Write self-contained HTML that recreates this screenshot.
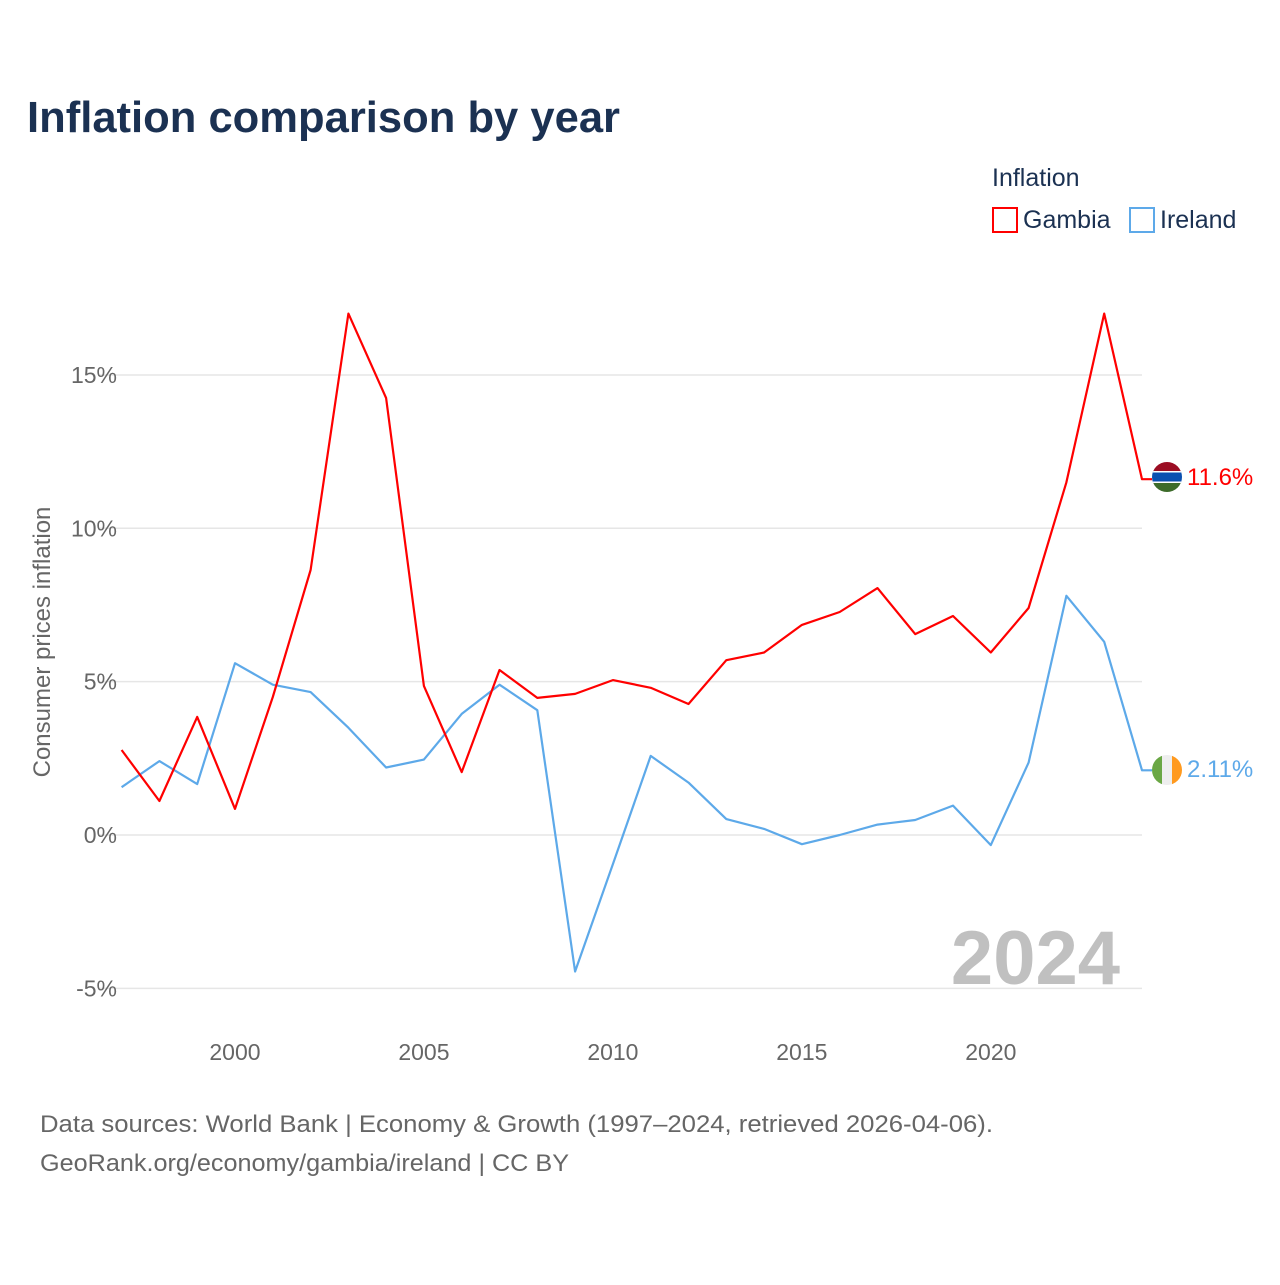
<!DOCTYPE html>
<html><head><meta charset="utf-8"><style>
body{margin:0;background:#fff;font-family:"Liberation Sans",sans-serif;}
svg text{font-family:"Liberation Sans",sans-serif;}
</style></head><body>
<svg id="chart" width="1280" height="1280" viewBox="0 0 1280 1280" xmlns="http://www.w3.org/2000/svg">
<rect width="1280" height="1280" fill="#fff"/>
<text x="27" y="132" font-size="44" font-weight="bold" fill="#1b3152" textLength="593" lengthAdjust="spacingAndGlyphs">Inflation comparison by year</text>
<g>
<text x="992" y="186" font-size="25" fill="#1b3152">Inflation</text>
<g><rect x="993" y="208" width="24" height="24" fill="none" stroke="#f00" stroke-width="2"/><text x="1023" y="228" font-size="25" fill="#1b3152">Gambia</text></g>
<g><rect x="1130" y="208" width="24" height="24" fill="none" stroke="#5da9e9" stroke-width="2"/><text x="1160" y="228" font-size="25" fill="#1b3152">Ireland</text></g>
</g>
<g id="grid"></g>
<g id="yticks"></g>
<g id="xticks"></g>
<text x="50" y="642" font-size="24" fill="#666" transform="rotate(-90 50 642)" text-anchor="middle">Consumer prices inflation</text>
<text x="1120" y="984" font-size="76" font-weight="bold" fill="#c0c0c0" text-anchor="end">2024</text>
<g id="series"></g>
<g>
<clipPath id="c1"><circle cx="1167" cy="477" r="15"/></clipPath>
<g clip-path="url(#c1)"><rect x="1150" y="460" width="34" height="12" fill="#9b0d23"/><rect x="1150" y="471" width="34" height="12" fill="#0b4fb0"/><rect x="1150" y="471" width="34" height="1.5" fill="#fff"/><rect x="1150" y="481.5" width="34" height="1.5" fill="#fff"/><rect x="1150" y="483" width="34" height="12" fill="#3d6b2a"/></g></g>
<g>
<clipPath id="c2"><circle cx="1167" cy="770" r="15"/></clipPath>
<g clip-path="url(#c2)"><rect x="1152" y="755" width="10" height="30" fill="#6aa745"/><rect x="1162" y="755" width="10" height="30" fill="#eee"/><rect x="1172" y="755" width="12" height="30" fill="#ff9a1f"/></g></g>
<text x="1187" y="485" font-size="24" fill="#f00">11.6%</text>
<text x="1187" y="777" font-size="24" fill="#5da9e9">2.11%</text>
<text x="40" y="1132" font-size="24" fill="#666" textLength="953" lengthAdjust="spacingAndGlyphs">Data sources: World Bank | Economy &amp; Growth (1997–2024, retrieved 2026-04-06).</text>
<text x="40" y="1171" font-size="24" fill="#666" textLength="529" lengthAdjust="spacingAndGlyphs">GeoRank.org/economy/gambia/ireland | CC BY</text>
</svg>
<script>
const years=[1997,1998,1999,2000,2001,2002,2003,2004,2005,2006,2007,2008,2009,2010,2011,2012,2013,2014,2015,2016,2017,2018,2019,2020,2021,2022,2023,2024];
const gambia=[2.77,1.11,3.85,0.85,4.5,8.64,17.0,14.25,4.86,2.05,5.38,4.47,4.6,5.05,4.8,4.27,5.7,5.95,6.85,7.27,8.05,6.55,7.14,5.95,7.4,11.5,17.0,11.6];
const ireland=[1.56,2.41,1.66,5.6,4.9,4.66,3.5,2.2,2.46,3.95,4.9,4.07,-4.45,-0.95,2.58,1.71,0.52,0.2,-0.3,0.0,0.34,0.49,0.96,-0.33,2.36,7.8,6.3,2.11];
const yTicks=[-5,0,5,10,15];
const yTickLabels=["-5%","0%","5%","10%","15%"];
const xTicks=[2000,2005,2010,2015,2020];
const NS="http://www.w3.org/2000/svg";
const x=v=>121.6+(v-1997)*(1142-121.6)/27;
const y=v=>835-v*30.67;
function mk(t,a,p){const e=document.createElementNS(NS,t);for(const k in a)e.setAttribute(k,a[k]);p.appendChild(e);return e;}
const grid=document.getElementById('grid'),yt=document.getElementById('yticks'),xt=document.getElementById('xticks'),ser=document.getElementById('series');
yTicks.forEach((v,i)=>{
 const l=mk('line',{x1:100,x2:1142,y1:y(v),y2:y(v),stroke:'#e6e6e6','stroke-width':1.5},grid);
 
 
 const t=mk('text',{x:117,y:y(v)+8,'font-size':23,fill:'#666','text-anchor':'end'},yt);
 t.textContent=yTickLabels[i];
 
 
});
xTicks.forEach(v=>{
 const t=mk('text',{x:x(v),y:1060,'font-size':23,fill:'#666','text-anchor':'middle'},xt);
 t.textContent=v;
 
 
});
function line(vals,col,name){
 let d=vals.map((v,i)=>(i?'L':'M')+x(years[i]).toFixed(1)+','+y(v).toFixed(1)).join(' ');
 d+=' L1152,'+y(vals[vals.length-1]).toFixed(1);
 const p=mk('path',{d:d,fill:'none',stroke:col,'stroke-width':2.2,'stroke-linejoin':'round'},ser);
 
 
}
line(ireland,'#5da9e9','ireland-line');
line(gambia,'#f00','gambia-line');
</script>
</body></html>
